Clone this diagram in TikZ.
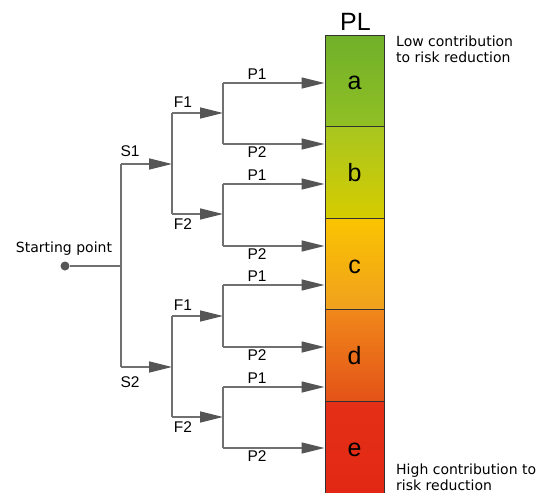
\documentclass[tikz,border=0pt]{standalone}
\usepackage{fontspec}
\setmainfont{Liberation Sans}
\newfontfamily\dvs{DejaVu Sans}
\usetikzlibrary{arrows.meta}
\definecolor{lngray}{RGB}{112,112,112}
\definecolor{tipgray}{RGB}{85,85,85}
\definecolor{segline}{RGB}{50,50,50}
\definecolor{aT}{RGB}{112,176,42}\definecolor{aB}{RGB}{145,192,36}
\definecolor{bT}{RGB}{168,198,32}\definecolor{bB}{RGB}{214,204,0}
\definecolor{cT}{RGB}{250,196,0}\definecolor{cB}{RGB}{240,160,30}
\definecolor{dT}{RGB}{240,136,26}\definecolor{dB}{RGB}{228,82,24}
\definecolor{eT}{RGB}{228,48,22}\definecolor{eB}{RGB}{226,40,20}
\begin{document}
\begin{tikzpicture}[x=1pt,y=-1pt,
 ln/.style={draw=lngray,line width=1.6pt},
 arr/.style={ln,-{Triangle[length=23pt,width=11pt,fill=tipgray,color=tipgray]}},
 seg/.style={draw=segline,line width=0.9pt,minimum width=59pt,minimum height=91.6pt,
   inner sep=0pt,text height=18pt,text depth=0pt,font=\fontsize{25}{30}\selectfont},
 lbl/.style={font=\fontsize{15.5}{18}\selectfont,inner sep=0pt},
 note/.style={font=\dvs\fontsize{14}{16}\selectfont,align=left,inner sep=0pt,anchor=north west}
]
\useasboundingbox (0,0) rectangle (558,493);

% PL bar
\node[seg,top color=aT,bottom color=aB] (a) at (354.5,80.8) {a};
\node[seg,top color=bT,bottom color=bB] (b) at (354.5,172.4) {b};
\node[seg,top color=cT,bottom color=cB] (c) at (354.5,264.0) {c};
\node[seg,top color=dT,bottom color=dB] (d) at (354.5,355.6) {d};
\node[seg,top color=eT,bottom color=eB] (e) at (354.5,447.2) {e};
\node[font=\fontsize{25}{30}\selectfont,inner sep=0pt,anchor=base] (pl) at (355.5,30) {PL};

% tree
\node[circle,fill=tipgray,inner sep=0pt,minimum size=9pt] (start) at (65,266) {};
\coordinate (j) at (121,266);
\coordinate (js1) at (121,164);
\coordinate (js2) at (121,367);
\coordinate (k1) at (172,164);
\coordinate (k1u) at (172,113);
\coordinate (k1d) at (172,214);
\coordinate (k2) at (172,367);
\coordinate (k2u) at (172,316);
\coordinate (k2d) at (172,417);
\coordinate (m1) at (223,113);
\coordinate (m2) at (223,214);
\coordinate (m3) at (223,316);
\coordinate (m4) at (223,417);
\coordinate (p1) at (223,83);
\coordinate (p2) at (223,144);
\coordinate (p3) at (223,184);
\coordinate (p4) at (223,246);
\coordinate (p5) at (223,285);
\coordinate (p6) at (223,347);
\coordinate (p7) at (223,387);
\coordinate (p8) at (223,448);

\draw[ln] (start) -- (j);
\draw[ln] (js1) -- (js2);
\draw[arr] (js1) -- (k1);
\draw[arr] (js2) -- (k2);
\draw[ln] (k1u) -- (k1d);
\draw[ln] (k2u) -- (k2d);
\draw[arr] (k1u) -- (m1);
\draw[arr] (k1d) -- (m2);
\draw[arr] (k2u) -- (m3);
\draw[arr] (k2d) -- (m4);
\draw[ln] (p1) -- (p2);
\draw[ln] (p3) -- (p4);
\draw[ln] (p5) -- (p6);
\draw[ln] (p7) -- (p8);
\foreach \p in {p1,p2,p3,p4,p5,p6,p7,p8}
  \draw[arr] (\p) -- (\p -| a.west);

% labels
\node[font=\dvs\fontsize{14}{16}\selectfont,inner sep=0pt,anchor=base] (stl) at (64,252) {Starting point};
\node[lbl] (s1l) at (130,151.5) {S1};
\node[lbl] (s2l) at (130,382.5) {S2};
\node[lbl] (f1a) at (183,102.5) {F1};
\node[lbl] (f2a) at (183,224) {F2};
\node[lbl] (f1b) at (183,305.5) {F1};
\node[lbl] (f2b) at (183,427.5) {F2};
\node[lbl] (l1) at (257,74) {P1};
\node[lbl] (l2) at (257,152.5) {P2};
\node[lbl] (l3) at (257,175) {P1};
\node[lbl] (l4) at (257,254.5) {P2};
\node[lbl] (l5) at (257,276) {P1};
\node[lbl] (l6) at (257,355.5) {P2};
\node[lbl] (l7) at (257,378) {P1};
\node[lbl] (l8) at (257,456.5) {P2};

\node[note] (low) at (396,36) {Low contribution\\to risk reduction};
\node[note] (high) at (396,463.5) {High contribution to\\risk reduction};
\end{tikzpicture}
\end{document}
